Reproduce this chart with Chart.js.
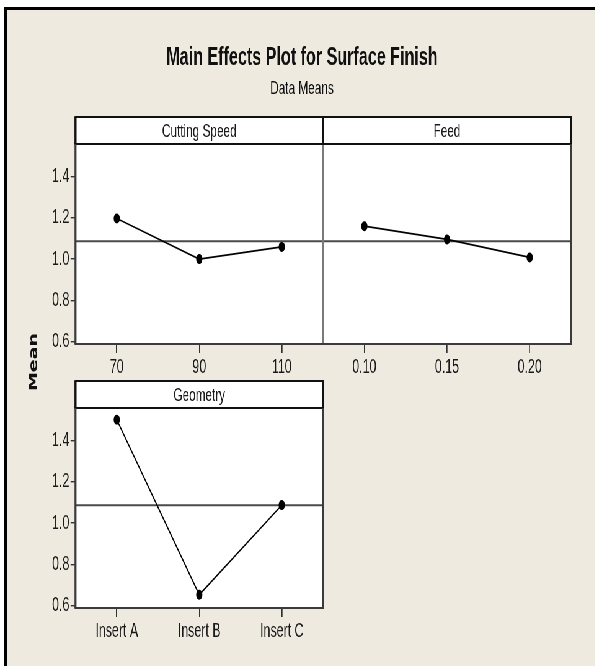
<!DOCTYPE html>
<html>
<head>
<meta charset="utf-8">
<script src="https://cdn.jsdelivr.net/npm/chart.js@4.4.1/dist/chart.umd.min.js"></script>
<style>
  html, body { margin: 0; padding: 0; background: #fff; }
  body { width: 595px; height: 666px; overflow: hidden; position: relative; }
  #frame {
    position: absolute; left: 4px; top: 7px; width: 700px; height: 700px;
    border-left: 3px solid #000; border-top: 3px solid #000;
    background: #eeeae0;
  }
  /* the source plot is squeezed horizontally, so draw wide and squeeze */
  #stage {
    position: absolute; left: 0; top: 0; width: 960px; height: 666px;
    transform: scaleX(0.62); transform-origin: 0 0;
  }
  #stage canvas { position: absolute; left: 0; top: 0; }
</style>
</head>
<body>
<div id="frame"></div>
<div id="stage">
  <canvas id="speedChart" width="960" height="666"></canvas>
  <canvas id="feedChart" width="960" height="666"></canvas>
  <canvas id="geoChart" width="960" height="666"></canvas>
</div>
<script>
// values
const speedLevels = ['70', '90', '110'];
const speedMeans = [1.196, 1.000, 1.059];
const feedLevels = ['0.10', '0.15', '0.20'];
const feedMeans = [1.159, 1.095, 1.008];
const geometryLevels = ['Insert A', 'Insert B', 'Insert C'];
const geometryMeans = [1.499, 0.654, 1.087];
const grandMean = 1.086;
const yTicks = [0.6, 0.8, 1.0, 1.2, 1.4];

const FONT = "'Liberation Sans', Arial, sans-serif";
Chart.defaults.font.family = FONT;
Chart.defaults.font.size = 20;
Chart.defaults.color = '#1a1a1a';

function line(ctx, x1, y1, x2, y2) {
    ctx.beginPath();
    ctx.moveTo(x1, y1);
    ctx.lineTo(x2, y2);
    ctx.stroke();
}

// white plot area, strip header, reference line and frame
const panelPlugin = {
    id: 'panel',
    beforeDraw(chart, args, opts) {
        const a = chart.chartArea;
        const ctx = chart.ctx;
        const st = a.top - 27;
        ctx.save();
        ctx.fillStyle = '#fff';
        ctx.fillRect(a.left, a.top, a.right - a.left, a.bottom - a.top);
        // strip
        ctx.fillRect(a.left, st, a.right - a.left, 27);
        ctx.strokeStyle = '#111';
        ctx.lineWidth = 2;
        line(ctx, a.left - 1.5, st, a.right + 1.5, st);
        line(ctx, a.left - 1.5, a.top, a.right + 1.5, a.top);
        ctx.lineWidth = 3.4;
        line(ctx, a.left, st, a.left, a.top);
        line(ctx, a.right, st, a.right, a.top);
        ctx.fillStyle = '#1a1a1a';
        ctx.font = '19px ' + FONT;
        ctx.textAlign = 'center';
        ctx.textBaseline = 'middle';
        ctx.fillText(opts.label, (a.left + a.right) / 2, a.top - 12.5);
        // grand mean line
        const y = chart.scales.y.getPixelForValue(grandMean);
        ctx.strokeStyle = '#4a4a4a';
        ctx.lineWidth = 2;
        line(ctx, a.left, y, a.right, y);
        ctx.restore();
    },
    afterDraw(chart, args, opts) {
        const a = chart.chartArea;
        const ctx = chart.ctx;
        ctx.save();
        ctx.strokeStyle = '#3a3a3a';
        ctx.lineWidth = 1.8;
        line(ctx, a.left - 1.5, a.bottom, a.right + 1.5, a.bottom);
        ctx.lineWidth = 3.2;
        if (opts.divider !== 'right') line(ctx, a.right, a.top, a.right, a.bottom);
        if (opts.divider !== 'left') line(ctx, a.left, a.top, a.left, a.bottom);
        if (opts.divider === 'left') {
            // shared edge between the two upper panels is lighter
            ctx.strokeStyle = '#7a7a7a';
            ctx.lineWidth = 3.6;
            line(ctx, a.left, a.top + 1, a.left, a.bottom - 1);
        }
        ctx.restore();
    }
};

// figure title, subtitle and the shared y label
const figureText = {
    id: 'figureText',
    afterDraw(chart) {
        const ctx = chart.ctx;
        ctx.save();
        ctx.fillStyle = '#111';
        ctx.textAlign = 'center';
        ctx.textBaseline = 'alphabetic';
        ctx.font = 'bold 26px ' + FONT;
        ctx.fillText('Main Effects Plot for Surface Finish', 487, 65);
        ctx.font = '19px ' + FONT;
        ctx.fillText('Data Means', 487, 94);
        ctx.translate(55, 362);
        ctx.rotate(-Math.PI / 2);
        ctx.textBaseline = 'middle';
        ctx.font = "bold 19px 'DejaVu Sans', Verdana, sans-serif";
        ctx.fillText('Mean', 0, 0);
        ctx.restore();
    }
};

function makePanel(id, levels, means, label, padding, showY, divider, extra) {
    const ctx = document.getElementById(id).getContext('2d');
    return new Chart(ctx, {
        type: 'line',
        data: {
            labels: levels,
            datasets: [{
                data: means,
                borderColor: '#000',
                borderWidth: 1.7,
                pointRadius: 5,
                pointBackgroundColor: '#000',
                pointBorderWidth: 0,
                tension: 0
            }]
        },
        options: {
            responsive: false,
            animation: false,
            events: [],
            layout: { padding: padding, autoPadding: false },
            plugins: {
                legend: { display: false },
                tooltip: { enabled: false },
                panel: { label: label, divider: divider }
            },
            scales: {
                x: {
                    type: 'category',
                    offset: true,
                    grid: { drawOnChartArea: false, drawTicks: true, tickLength: 9, color: '#333', lineWidth: 1.7 },
                    border: { display: false },
                    ticks: { padding: 2, maxRotation: 0, color: '#1a1a1a' },
                    afterFit(scale) { scale.height = 40; }
                },
                y: {
                    display: showY,
                    min: 0.59,
                    max: 1.556,
                    afterBuildTicks(scale) { scale.ticks = yTicks.map(v => ({ value: v })); },
                    grid: { drawOnChartArea: false, drawTicks: true, tickLength: 8, color: '#333', lineWidth: 1.4 },
                    border: { display: false },
                    ticks: { padding: 2, color: '#1a1a1a', callback: v => Number(v).toFixed(1) },
                    afterFit(scale) { scale.width = showY ? 60 : 0; }
                }
            }
        },
        plugins: [panelPlugin].concat(extra || [])
    });
}

makePanel('speedChart', speedLevels, speedMeans, 'Cutting Speed',
    { left: 61.8, right: 439, top: 144, bottom: 282 }, true, 'right', [figureText]);
makePanel('feedChart', feedLevels, feedMeans, 'Feed',
    { left: 521, right: 39, top: 144, bottom: 282 }, false, 'left');
makePanel('geoChart', geometryLevels, geometryMeans, 'Geometry',
    { left: 61.8, right: 439, top: 408, bottom: 18 }, true, null);
</script>
</body>
</html>
